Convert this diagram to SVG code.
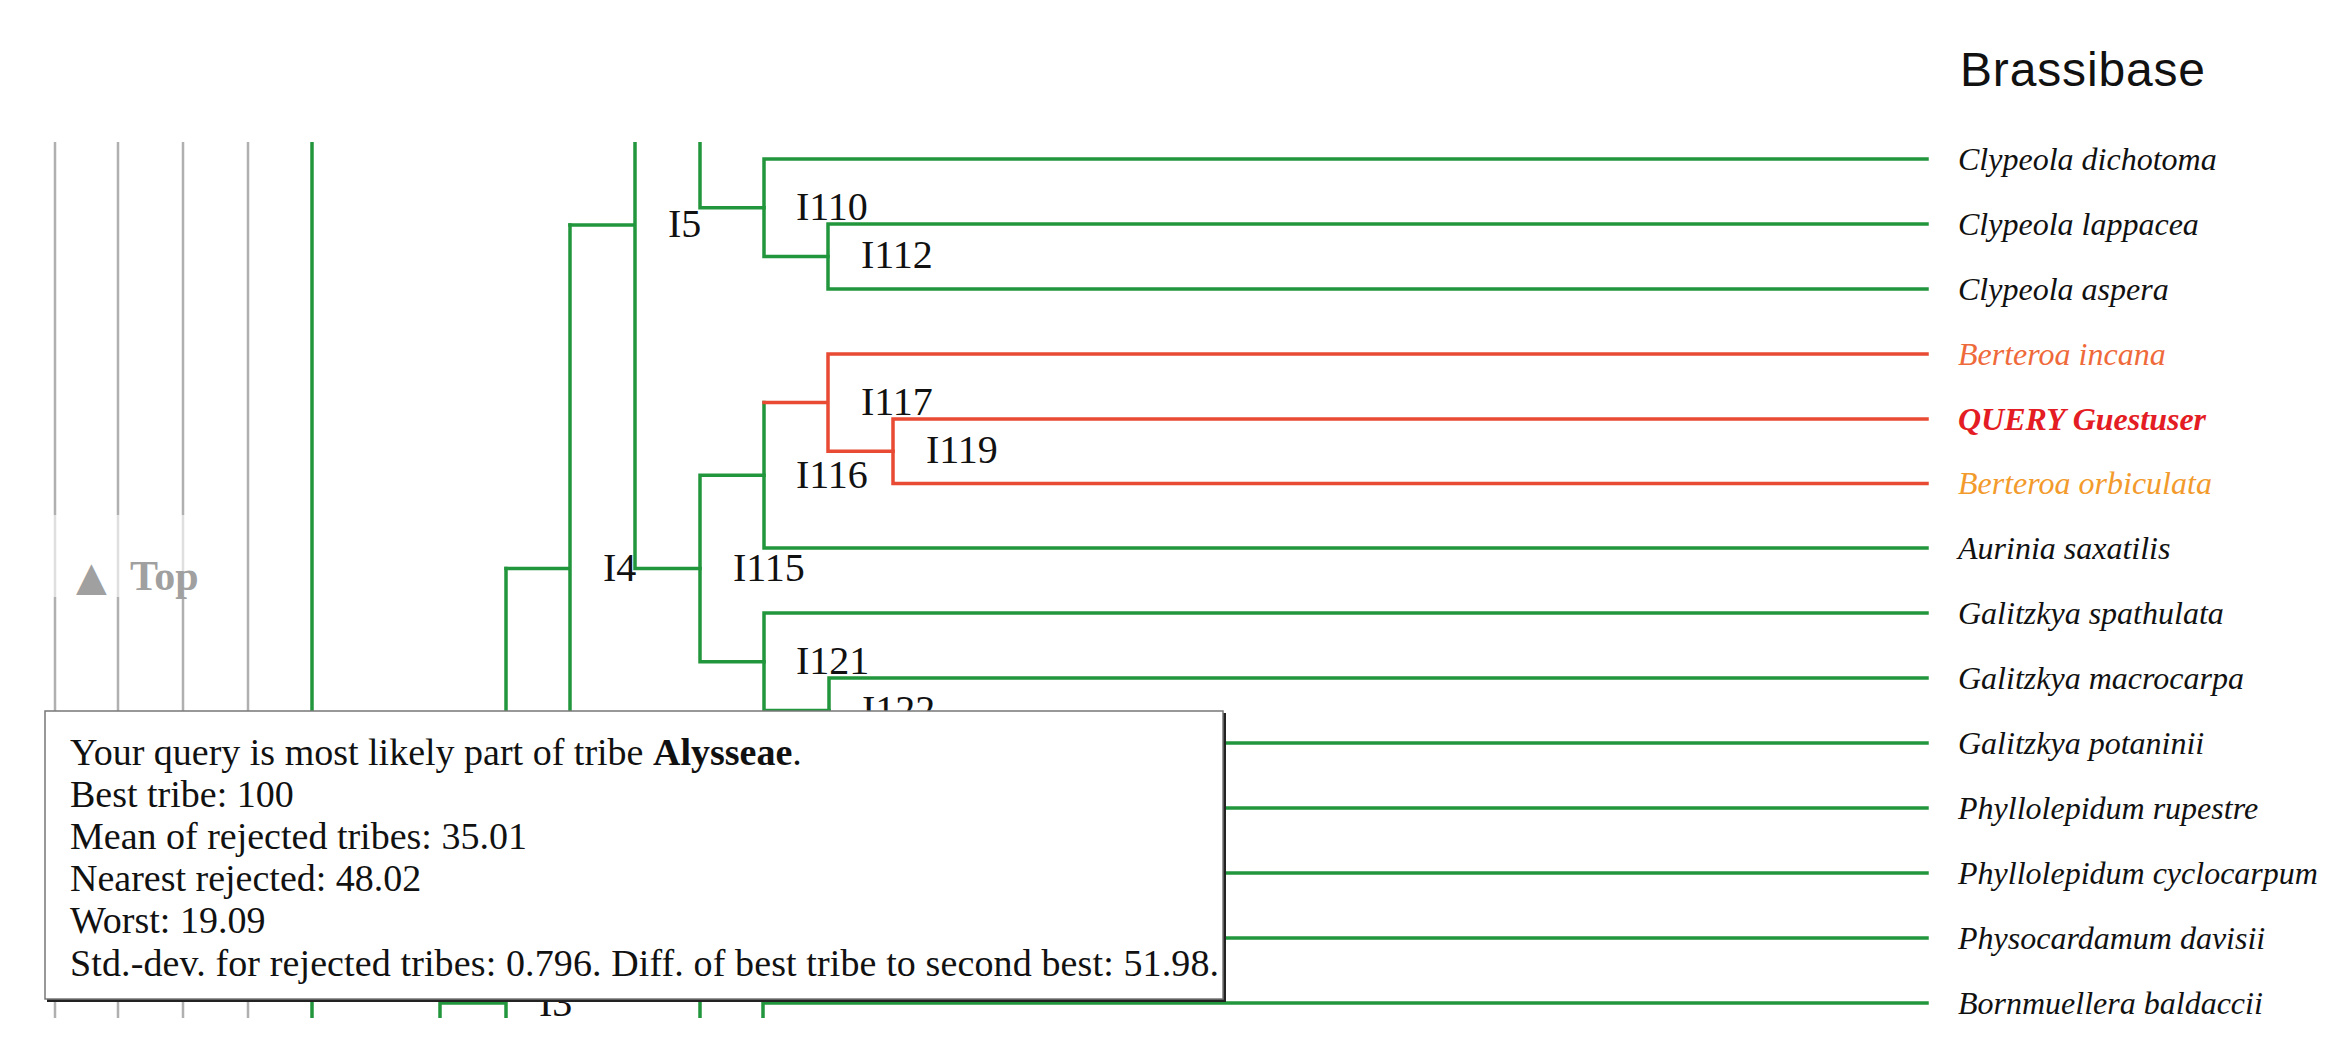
<svg xmlns="http://www.w3.org/2000/svg" width="2346" height="1056" viewBox="0 0 2346 1056">
<style>
.g{fill:none;stroke:#22963c;stroke-width:3.5;stroke-linecap:square}
.r{fill:none;stroke:#e84a33;stroke-width:3.5;stroke-linecap:square}
.gr{fill:none;stroke:#b0b0b0;stroke-width:2.5}
.nl{font-family:"Liberation Serif","Times New Roman",serif;font-size:40px;fill:#111}
.sp{font-family:"Liberation Serif","Times New Roman",serif;font-size:32px;font-style:italic;fill:#111}
.bx{font-family:"Liberation Serif","Times New Roman",serif;font-size:38px;fill:#111}
</style>
<defs>
<clipPath id="treeclip"><rect x="0" y="142" width="2346" height="876"/></clipPath>
</defs>
<rect width="2346" height="1056" fill="#fff"/>
<text x="1960" y="86" font-family="Liberation Sans, Arial, sans-serif" font-size="48" fill="#111" textLength="245">Brassibase</text>
<g clip-path="url(#treeclip)">
<g id="connectors">
<path class="gr" d="M55 142V1030M118 142V1030M183 142V1030M248 142V1030"/>
<path class="g" d="M312 130V1030"/>
<path class="g" d="M700 130V207.75H764"/>
<path class="g" d="M635 130V568.5M570 225H635M635 568.5H700"/>
<path class="g" d="M570 225V912M506 568.5H570"/>
<path class="g" d="M506 568.5V1030M440 1003H506M440 1003V1030"/>
<path class="g" d="M764 159V256.5M764 159H1927M764 256.5H828"/>
<path class="g" d="M828 224V289M828 224H1927M828 289H1927"/>
<path class="g" d="M700 475.3V661.75M700 475.3H764M700 661.75H764"/>
<path class="g" d="M764 402.6V548M764 548H1927"/>
<path class="r" d="M764 402.6H828M828 354V451.25M828 354H1927M828 451.25H893"/>
<path class="r" d="M893 419V483.5M893 419H1927M893 483.5H1927"/>
<path class="g" d="M764 613V710.5M764 613H1927M764 710.5H829"/>
<path class="g" d="M829 678V743M829 678H1927M829 743H1927"/>
<path class="g" d="M1000 808H1927M1000 873H1927M1000 938H1927"/>
<path class="g" d="M700 980V1030M763 1003V1030M763 1003H1927"/>
</g>
<g id="n-I5"><text class="nl" x="668" y="237">I5</text></g>
<g id="n-I4"><text class="nl" x="603" y="581">I4</text></g>
<g id="n-I3"><text class="nl" x="539" y="1016">I3</text></g>
<g id="n-I110"><text class="nl" x="796" y="220">I110</text></g>
<g id="n-I112"><text class="nl" x="861" y="268">I112</text></g>
<g id="n-I117"><text class="nl" x="861" y="415">I117</text></g>
<g id="n-I119"><text class="nl" x="926" y="463">I119</text></g>
<g id="n-I116"><text class="nl" x="796" y="488">I116</text></g>
<g id="n-I115"><text class="nl" x="733" y="581">I115</text></g>
<g id="n-I121"><text class="nl" x="796" y="674">I121</text></g>
<g id="n-I122"><text class="nl" x="862" y="723">I122</text></g>
</g>
<g id="leaves">
<g id="l0"><text class="sp" x="1958" y="170">Clypeola dichotoma</text></g>
<g id="l1"><text class="sp" x="1958" y="235">Clypeola lappacea</text></g>
<g id="l2"><text class="sp" x="1958" y="300">Clypeola aspera</text></g>
<g id="l3"><text class="sp" x="1958" y="365" style="fill:#ef6a3a">Berteroa incana</text></g>
<g id="l4"><text class="sp" x="1958" y="430" style="fill:#e41c23;font-weight:bold">QUERY Guestuser</text></g>
<g id="l5"><text class="sp" x="1958" y="494" style="fill:#f39a2c">Berteroa orbiculata</text></g>
<g id="l6"><text class="sp" x="1958" y="559">Aurinia saxatilis</text></g>
<g id="l7"><text class="sp" x="1958" y="624">Galitzkya spathulata</text></g>
<g id="l8"><text class="sp" x="1958" y="689">Galitzkya macrocarpa</text></g>
<g id="l9"><text class="sp" x="1958" y="754">Galitzkya potaninii</text></g>
<g id="l10"><text class="sp" x="1958" y="819">Phyllolepidum rupestre</text></g>
<g id="l11"><text class="sp" x="1958" y="884">Phyllolepidum cyclocarpum</text></g>
<g id="l12"><text class="sp" x="1958" y="949">Physocardamum davisii</text></g>
<g id="l13"><text class="sp" x="1958" y="1014">Bornmuellera baldaccii</text></g>
</g>
<g id="top-link">
<rect x="40" y="515" width="170" height="82" fill="#fff" opacity="0.6"/>
<text x="76" y="590" font-family="DejaVu Sans, sans-serif" font-size="40" fill="#a0a0a0">▲</text>
<text x="130" y="590" font-family="Liberation Serif, serif" font-size="42" font-weight="bold" fill="#a0a0a0">Top</text>
</g>
<g id="result-box">
<rect x="47" y="713" width="1179" height="289" fill="#222"/>
<rect x="45" y="711" width="1178" height="288" fill="#fff" stroke="#777" stroke-width="1.5"/>
<text class="bx" x="70" y="765">Your query is most likely part of tribe <tspan font-weight="bold">Alysseae</tspan>.</text>
<text class="bx" x="70" y="807">Best tribe: 100</text>
<text class="bx" x="70" y="849">Mean of rejected tribes: 35.01</text>
<text class="bx" x="70" y="891">Nearest rejected: 48.02</text>
<text class="bx" x="70" y="933">Worst: 19.09</text>
<text class="bx" x="70" y="976" textLength="1149">Std.-dev. for rejected tribes: 0.796. Diff. of best tribe to second best: 51.98.</text>
</g>
</svg>
